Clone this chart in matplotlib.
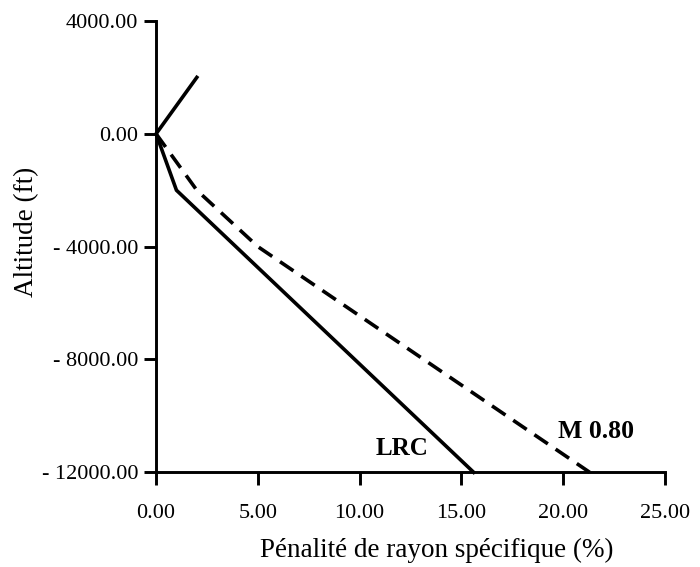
import matplotlib
matplotlib.use("Agg")
import matplotlib.pyplot as plt

# ============================================================================
# Data
# ============================================================================

lrc_x = [2.0, 0.0, 1.0, 15.6]
lrc_y = [2000, 0, -2000, -12000]

m080_x = [0.0, 2.0, 5.0, 21.3]
m080_y = [0, -2000, -4000, -12000]

x_ticks = [0, 5, 10, 15, 20, 25]
x_tick_labels = ["0.00", "5.00", "10.00", "15.00", "20.00", "25.00"]
y_ticks = [4000, 0, -4000, -8000, -12000]
y_tick_labels = ["4000.00", "0.00", "- 4000.00", "- 8000.00", "- 12000.00"]

# ============================================================================
# Figure
# ============================================================================

plt.rcParams["font.family"] = ["Liberation Serif", "DejaVu Serif"]

fig = plt.figure(figsize=(7.0, 5.67), dpi=100)
ax = fig.add_axes([0.223, 0.167, 0.727, 0.796])

ax.plot(lrc_x, lrc_y, color="black", lw=2.6, solid_joinstyle="miter",
        clip_on=False)
ax.plot(m080_x, m080_y, color="black", lw=2.6, linestyle=(0, (4.5, 2.6)),
        clip_on=False)

ax.text(12.1, -11150, "LRC", fontsize=18, fontweight="bold",
        ha="center", va="center")
ax.text(21.6, -10550, "M 0.80", fontsize=18.5, fontweight="bold",
        ha="center", va="center")

ax.set_xlim(0, 25)
ax.set_ylim(-12000, 4000)
ax.set_xticks(x_ticks)
ax.set_xticklabels(x_tick_labels)
ax.set_yticks(y_ticks)
ax.set_yticklabels(y_tick_labels)

for side in ("top", "right"):
    ax.spines[side].set_visible(False)
for side in ("left", "bottom"):
    ax.spines[side].set_linewidth(2.1)

ax.tick_params(axis="both", direction="out", length=9, width=2.1,
               labelsize=16)
ax.tick_params(axis="y", pad=4)
ax.tick_params(axis="x", pad=14)

ax.set_xlabel("Pénalité de rayon spécifique (%)", fontsize=19.5, va="center")
ax.xaxis.set_label_coords(0.552, -0.173)
ax.set_ylabel("Altitude (ft)", fontsize=19.5, va="center")
ax.yaxis.set_label_coords(-0.255, 0.532)

fig.savefig("out.png", dpi=100)
